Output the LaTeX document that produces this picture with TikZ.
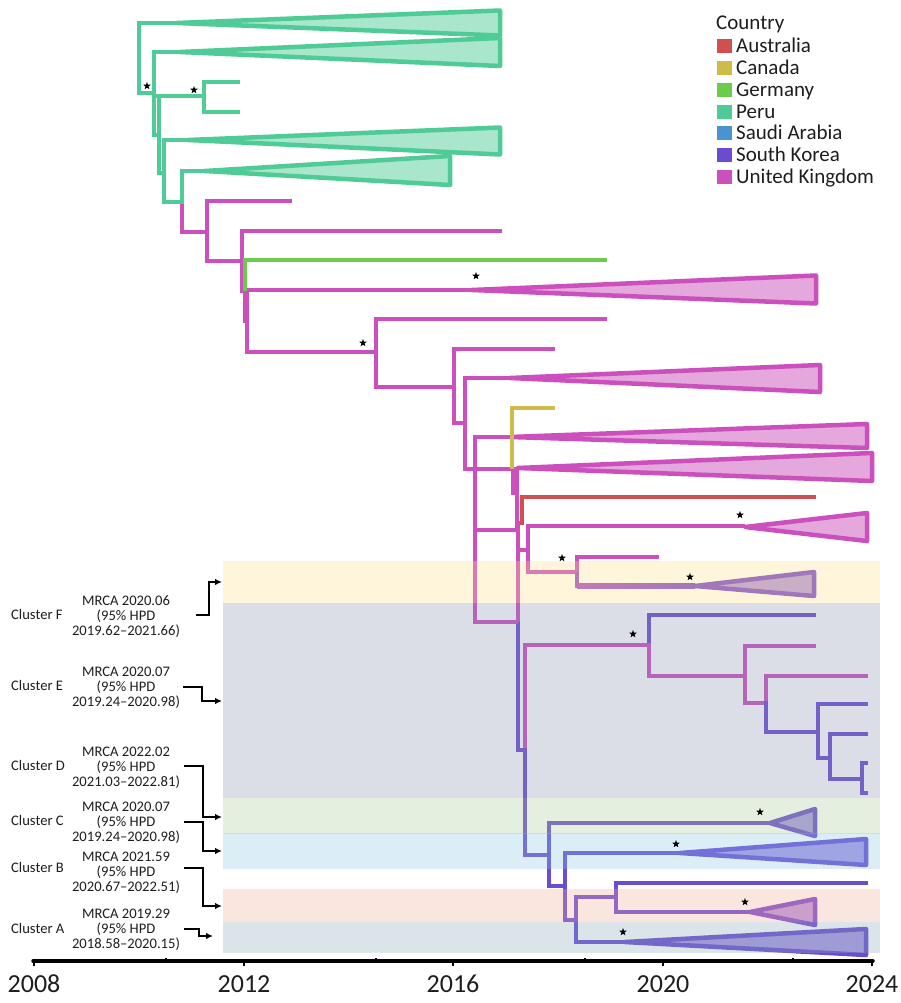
\documentclass[tikz,border=0pt]{standalone}
\usepackage{fontspec}
\setmainfont{Carlito}
\usetikzlibrary{arrows.meta,shapes.geometric}
\definecolor{peru}{HTML}{4ECB96}
\definecolor{perufill}{HTML}{A9E6CB}
\definecolor{uk}{HTML}{CC4FBE}
\definecolor{ukfill}{HTML}{E5A8DC}
\definecolor{sk}{HTML}{6A4BD2}
\definecolor{skfill}{HTML}{A896E2}
\definecolor{ger}{HTML}{6CCB4B}
\definecolor{can}{HTML}{CDBB4B}
\definecolor{aus}{HTML}{D05050}
\definecolor{sau}{HTML}{4B93D0}
\definecolor{mix}{HTML}{9A4EC6}
\definecolor{bandF}{RGB}{252,222,138}
\definecolor{bandE}{RGB}{138,148,178}
\definecolor{bandD}{RGB}{172,205,152}
\definecolor{bandC}{RGB}{138,202,228}
\definecolor{bandB}{RGB}{242,172,152}
\definecolor{bandA}{RGB}{138,168,185}
\definecolor{ink}{HTML}{1E1E1E}
\begin{document}
\begin{tikzpicture}[x=1pt,y=-1pt,
  hb/.style={line width=4.5pt},
  vb/.style={line width=4.5pt,line cap=rect},
  tri/.style={line width=4.5pt,line join=round},
  sig/.style={star,star points=5,star point ratio=2.4,fill=black,draw=none,inner sep=0pt,minimum size=8pt},
  arr/.style={line width=1.6pt,-{Latex[length=7pt,width=6.5pt]}},
  band/.style={opacity=0.3},
  clab/.style={anchor=base west,text=ink,font=\fontsize{14.6}{15}\selectfont,inner sep=0pt},
  mrca/.style={align=center,text=ink,font=\fontsize{14.6}{15}\selectfont,inner sep=0pt},
  leg/.style={anchor=base west,text=ink,font=\fontsize{21}{24}\selectfont,inner sep=0pt},
  yr/.style={anchor=base,text=ink,font=\fontsize{26}{28}\selectfont,inner sep=0pt}]
\useasboundingbox (0,0) rectangle (900,1003);
\fill[white] (0,0) rectangle (900,1003);

% ---------- Peru part ----------
\draw[tri,peru,fill=perufill] (177,23)--(500,10.5)--(500,35.5)--cycle;
\draw[tri,peru,fill=perufill] (180,52)--(500,38)--(500,66)--cycle;
\draw[tri,peru,fill=perufill] (188,140)--(500,127.5)--(500,154.5)--cycle;
\draw[tri,peru,fill=perufill] (205,171)--(450,156)--(450,185)--cycle;
\draw[vb,peru] (139,23)--(139,93);
\draw[hb,peru] (139,23)--(177,23);
\draw[hb,peru] (139,93)--(154,93);
\draw[vb,peru] (154,52)--(154,135);
\draw[hb,peru] (154,52)--(180,52);
\draw[hb,peru] (154,135)--(159,135);
\draw[vb,peru] (159,96)--(159,173);
\draw[hb,peru] (154,96)--(204,96);
\draw[vb,peru] (204,82)--(204,112);
\draw[hb,peru] (204,82)--(240,82);
\draw[hb,peru] (204,112)--(240,112);
\draw[hb,peru] (159,173)--(164,173);
\draw[vb,peru] (164,140)--(164,202);
\draw[hb,peru] (164,140)--(188,140);
\draw[hb,peru] (164,202)--(182,202);
\draw[vb,uk] (182,204)--(182,232);
\draw[vb,peru] (182,171)--(182,202);
\draw[hb,peru] (182,171)--(205,171);

% ---------- UK backbone ----------
\draw[hb,uk] (182,232)--(207,232);
\draw[vb,uk] (207,201)--(207,261);
\draw[hb,uk] (207,201)--(292,201);
\draw[hb,uk] (207,261)--(242,261);
\draw[vb,uk] (242,231)--(242,291);
\draw[hb,uk] (242,231)--(502,231);
\draw[vb,uk] (245,291)--(245,321);
\draw[vb,uk] (247,290)--(247,352);
\draw[vb,ger] (245,260)--(245,289);
\draw[hb,ger] (245,260)--(607,260);
\draw[tri,uk,fill=ukfill] (472,290)--(816,275.5)--(816,303.5)--cycle;
\draw[hb,uk] (247,290)--(472,290);
\draw[hb,uk] (247,352)--(376,352);
\draw[vb,uk] (376,319)--(376,387);
\draw[hb,uk] (376,319)--(607,319);
\draw[hb,uk] (376,387)--(454,387);
\draw[vb,uk] (454,349)--(454,423);
\draw[hb,uk] (454,349)--(555,349);
\draw[hb,uk] (454,423)--(465,423);
\draw[tri,uk,fill=ukfill] (510,378)--(820,365)--(820,392)--cycle;
\draw[tri,uk,fill=ukfill] (518,468)--(872,453)--(872,481)--cycle;
\draw[tri,uk,fill=ukfill] (510,437)--(867,424)--(867,448)--cycle;
\draw[vb,uk] (465,378)--(465,469);
\draw[hb,uk] (465,378)--(510,378);
\draw[hb,uk] (465,469)--(518,469);
\draw[vb,uk] (475,437)--(475,622);
\draw[hb,uk] (475,437)--(510,437);
\draw[vb,can] (512,408)--(512,467);
\draw[hb,can] (512,408)--(555,408);
\draw[hb,uk] (475,530)--(517,530);
\draw[vb,uk] (513.5,471)--(513.5,493);
\draw[vb,uk] (517,471)--(517,527);
\draw[vb,aus] (522,497)--(522,523);
\draw[hb,aus] (522,497)--(816,497);
\draw[vb,uk] (518,523)--(518,622);
\draw[vb,sk] (518,624)--(518,750);
\draw[hb,uk] (518,550)--(528,550);
\draw[tri,uk,fill=ukfill] (745,527)--(867,513)--(867,541)--cycle;
\draw[vb,uk] (528,526)--(528,572);
\draw[hb,uk] (528,526)--(745,526);
\draw[hb,uk] (528,572)--(577,572);
\draw[vb,uk] (577,557)--(577,572);
\draw[vb,mix] (577,574)--(577,586);
\draw[hb,uk] (577,557)--(659,557);
\draw[tri,sk!85!uk,fill=skfill!80!ukfill] (695,586)--(814,572)--(814,596)--cycle;
\shade[left color=uk!70!sk,right color=sk!85!uk] (577,583.75) rectangle (695,588.25);
\draw[hb,uk] (475,622)--(518,622);

% ---------- lower (South Korea) part ----------
\draw[hb,sk] (518,750)--(525,750);
\draw[vb,uk] (525,645)--(525,748);
\draw[vb,sk] (525,750)--(525,855);
\draw[hb,uk] (525,645)--(649,645);
\draw[vb,sk] (649,615)--(649,643);
\draw[vb,uk] (649,645)--(649,676);
\draw[hb,sk] (649,615)--(816,615);
\draw[hb,uk] (649,676)--(745,676);
\draw[vb,uk] (745,646)--(745,703);
\draw[hb,uk] (745,646)--(816,646);
\draw[hb,uk] (745,703)--(766,703);
\draw[vb,uk] (766,676)--(766,701);
\draw[vb,sk] (766,703)--(766,732);
\draw[hb,uk] (766,676)--(868,676);
\draw[hb,sk] (766,732)--(818,732);
\draw[vb,sk] (818,704)--(818,758);
\draw[hb,sk] (818,704)--(868,704);
\draw[hb,sk] (818,758)--(830,758);
\draw[vb,sk] (830,734)--(830,779);
\draw[hb,sk] (830,734)--(868,734);
\draw[hb,sk] (830,779)--(862,779);
\draw[vb,sk] (862,763)--(862,793);
\draw[hb,sk] (862,763)--(868,763);
\draw[hb,sk] (862,793)--(868,793);

\draw[tri,sk,fill=skfill] (770,823)--(815,809)--(815,836)--cycle;
\draw[tri,sk,fill=skfill] (680,853)--(866,839)--(866,865)--cycle;
\draw[tri,sk!85!uk,fill=skfill!70!ukfill] (750,912)--(815,899)--(815,925)--cycle;
\draw[tri,sk,fill=skfill] (625,942)--(866,929)--(866,955)--cycle;
\draw[hb,sk] (525,855)--(549,855);
\draw[vb,sk] (549,823)--(549,886);
\draw[hb,sk] (549,823)--(770,823);
\draw[hb,sk] (549,886)--(565,886);
\draw[vb,sk] (565,853)--(565,920);
\draw[hb,sk] (565,853)--(680,853);
\draw[hb,sk] (565,920)--(576,920);
\draw[vb,sk] (576,897)--(576,942);
\draw[hb,sk] (576,897)--(616,897);
\draw[vb,sk] (616,883)--(616,912);
\draw[hb,sk] (616,883)--(868,883);
\draw[hb,sk] (616,912)--(750,912);
\draw[hb,sk] (576,942)--(625,942);

% ---------- cluster bands (translucent overlay) ----------
\fill[band,bandF] (223,561) rectangle (880,603);
\fill[band,bandE] (223,603) rectangle (880,798);
\fill[band,bandD] (223,798) rectangle (880,834);
\fill[band,bandC] (223,832.5) rectangle (880,869);
\fill[band,bandB] (223,889) rectangle (880,922);
\fill[band,bandA] (223,922) rectangle (880,953);

% ---------- support stars ----------
\node[sig] (s1) at (147,86) {};
\node[sig] (s2) at (194,90) {};
\node[sig] (s3) at (476,276) {};
\node[sig] (s4) at (363,343) {};
\node[sig] (s5) at (740,515) {};
\node[sig] (s6) at (562,558) {};
\node[sig] (s7) at (690,577) {};
\node[sig] (s8) at (633,634) {};
\node[sig] (s9) at (760,812) {};
\node[sig] (s10) at (676,844) {};
\node[sig] (s11) at (745,902) {};
\node[sig] (s12) at (623,932) {};

% ---------- cluster labels ----------
\node[clab] (cF) at (11,619.7) {Cluster F};
\node[clab] (cE) at (11,690.7) {Cluster E};
\node[clab] (cD) at (11,770.7) {Cluster D};
\node[clab] (cC) at (11,825.7) {Cluster C};
\node[clab] (cB) at (11,872.7) {Cluster B};
\node[clab] (cA) at (11,933.7) {Cluster A};
\node[mrca] (mF) at (126,616.5) {MRCA 2020.06\\(95\% HPD\\2019.62–2021.66)};
\node[mrca] (mE) at (126,687.5) {MRCA 2020.07\\(95\% HPD\\2019.24–2020.98)};
\node[mrca] (mD) at (126,767.5) {MRCA 2022.02\\(95\% HPD\\2021.03–2022.81)};
\node[mrca] (mC) at (126,822.5) {MRCA 2020.07\\(95\% HPD\\2019.24–2020.98)};
\node[mrca] (mB) at (126,872.5) {MRCA 2021.59\\(95\% HPD\\2020.67–2022.51)};
\node[mrca] (mA) at (126,929.5) {MRCA 2019.29\\(95\% HPD\\2018.58–2020.15)};

\coordinate (aF) at (222,582);
\coordinate (aE) at (222,701);
\coordinate (aD) at (222,817);
\coordinate (aC) at (222,851);
\coordinate (aB) at (222,906);
\coordinate (aA) at (213,936);
\draw[arr] (196,615)--(209,615)--(209,582)--(aF);
\draw[arr] (183,687)--(202,687)--(202,701)--(aE);
\draw[arr] (184,766)--(203,766)--(203,817)--(aD);
\draw[arr] (184,822)--(203,822)--(203,851)--(aC);
\draw[arr] (184,868)--(203,868)--(203,906)--(aB);
\draw[arr] (184,929)--(199,929)--(199,936)--(aA);

% ---------- legend ----------
\node[leg] (lt) at (716,30) {Country};
\fill[aus] (717,39) rectangle (732,53);
\node[leg] (l1) at (736,53) {Australia};
\fill[can] (717,61) rectangle (732,75);
\node[leg] (l2) at (736,75) {Canada};
\fill[ger] (717,83) rectangle (732,97);
\node[leg] (l3) at (736,97) {Germany};
\fill[peru] (717,105) rectangle (732,119);
\node[leg] (l4) at (736,119) {Peru};
\fill[sau] (717,126) rectangle (732,140);
\node[leg] (l5) at (736,140) {Saudi Arabia};
\fill[sk] (717,148) rectangle (732,162);
\node[leg] (l6) at (736,162) {South Korea};
\fill[uk] (717,170) rectangle (732,184);
\node[leg] (l7) at (736,184) {United Kingdom};

% ---------- time axis ----------
\draw[line width=3.5pt,line cap=round] (33,961)--(873,961);
\foreach \x in {34,244,453,663,872} \draw[line width=2.5pt] (\x,961)--(\x,966);
\foreach \x in {166,376,585,793} \draw[line width=1.5pt] (\x,961)--(\x,957.5);
\node[yr] (y1) at (34,992) {2008};
\node[yr] (y2) at (244,992) {2012};
\node[yr] (y3) at (453,992) {2016};
\node[yr] (y4) at (663,992) {2020};
\node[yr] (y5) at (872,992) {2024};
\end{tikzpicture}
\end{document}
